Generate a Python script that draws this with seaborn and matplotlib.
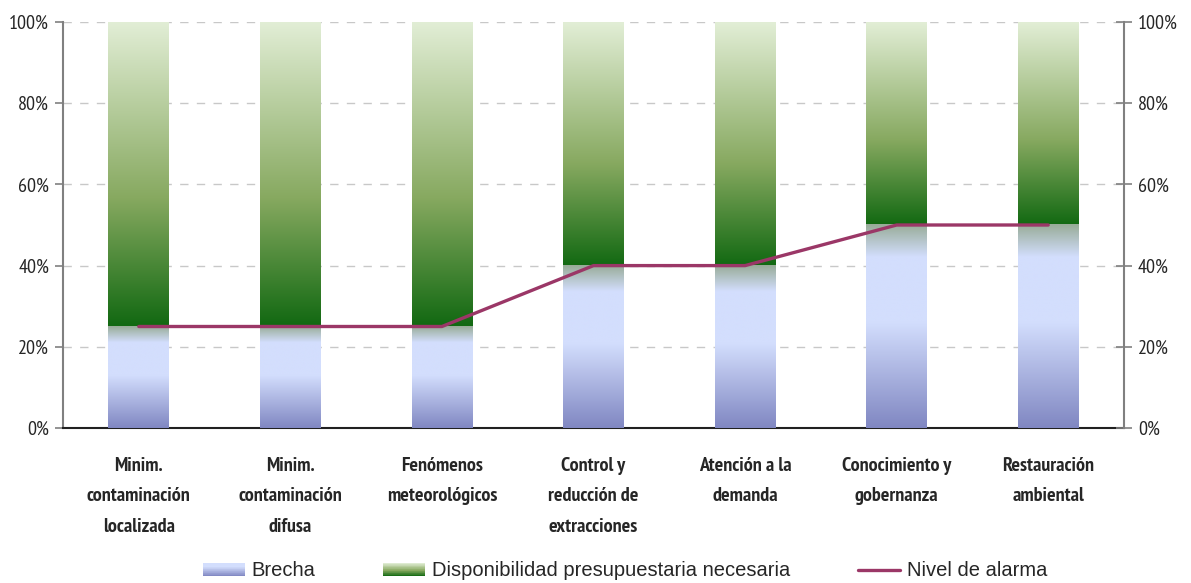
import numpy as np
import pandas as pd
import matplotlib
matplotlib.use("Agg")
import matplotlib.pyplot as plt
import seaborn as sns
from matplotlib.colors import LinearSegmentedColormap
from matplotlib.legend_handler import HandlerBase
from matplotlib.patches import Rectangle
from matplotlib.lines import Line2D
from matplotlib import font_manager

# --- data -------------------------------------------------------------
categorias = [
    "Minim.\ncontaminación\nlocalizada",
    "Minim.\ncontaminación\ndifusa",
    "Fenómenos\nmeteorológicos",
    "Control y\nreducción de\nextracciones",
    "Atención a la\ndemanda",
    "Conocimiento y\ngobernanza",
    "Restauración\nambiental",
]
brecha = [0.25, 0.25, 0.25, 0.40, 0.40, 0.50, 0.50]
disponibilidad = [0.75, 0.75, 0.75, 0.60, 0.60, 0.50, 0.50]
nivel_alarma = [0.25, 0.25, 0.25, 0.40, 0.40, 0.50, 0.50]
ticks_y = [0.0, 0.2, 0.4, 0.6, 0.8, 1.0]
etiquetas_y = ["0%", "20%", "40%", "60%", "80%", "100%"]

# --- style ------------------------------------------------------------
sns.set_theme(style="white")
installed = {f.name for f in font_manager.fontManager.ttflist}
preferred = ["PT Sans Narrow", "Liberation Sans Narrow", "Roboto Condensed",
             "Archivo Narrow", "Liberation Sans"]
narrow_font = next(f for f in preferred if f in installed)
plt.rcParams["font.family"] = [narrow_font, "DejaVu Sans"]
legend_font = ["Liberation Sans", "DejaVu Sans"]

cmap_brecha = LinearSegmentedColormap.from_list(
    "brecha", [(0.0, "#8087c2"), (0.52, "#d3defd"), (0.84, "#d3defd"), (1.0, "#98ac98")])
cmap_disp = LinearSegmentedColormap.from_list(
    "disp", [(0.0, "#126912"), (0.42, "#87a960"), (1.0, "#e2eed6")])
color_linea = "#9b3767"

df = pd.DataFrame({
    "categoria": categorias,
    "total": np.array(brecha) + np.array(disponibilidad),
    "brecha": brecha,
})

fig = plt.figure(figsize=(11.91, 5.83), dpi=100)
ax = fig.add_axes([63 / 1191, 1 - 428 / 583, (1124 - 63) / 1191, (428 - 22) / 583])

# stacked bars: total behind, gap in front
sns.barplot(data=df, x="categoria", y="total", ax=ax, width=0.40,
            color="#87a960", saturation=1, zorder=2)
n_total = len(ax.patches)
sns.barplot(data=df, x="categoria", y="brecha", ax=ax, width=0.40,
            color="#d3defd", saturation=1, zorder=3)

# vertical gradient fills for each bar segment
grad = np.linspace(0, 1, 512).reshape(-1, 1)
patches = list(ax.patches)
for i, p in enumerate(patches[:n_total]):
    x0 = p.get_x()
    x1 = x0 + p.get_width()
    ax.imshow(grad, cmap=cmap_disp, extent=[x0, x1, brecha[i], p.get_height()],
              origin="lower", aspect="auto", zorder=2.5, interpolation="bilinear")
    p.set_visible(False)
for p in patches[n_total:]:
    x0 = p.get_x()
    x1 = x0 + p.get_width()
    ax.imshow(grad, cmap=cmap_brecha, extent=[x0, x1, 0, p.get_height()],
              origin="lower", aspect="auto", zorder=3.5, interpolation="bilinear")
    p.set_visible(False)

sns.lineplot(x=np.arange(len(categorias)), y=nivel_alarma, ax=ax, color=color_linea,
             lw=2.4, zorder=5, sort=False)

ax.set_xlim(-0.5, len(categorias) - 0.5)
ax.set_ylim(0, 1)
ax.set_yticks(ticks_y)
ax.set_yticklabels(etiquetas_y, fontsize=14.5)
ax.set_xlabel("")
ax.set_ylabel("")
ax.set_xticks(np.arange(len(categorias)))
ax.set_xticklabels(categorias, fontsize=14.5, fontweight="bold", linespacing=1.88)
ax.tick_params(axis="x", length=0, pad=21)
ax.tick_params(axis="y", direction="out", length=6, width=1.2, color="#808080", pad=4)
ax.yaxis.grid(True, ls=(0, (6, 6)), color="#c8c8c8", lw=1.0)
ax.set_axisbelow(True)
ax.spines["top"].set_visible(False)
ax.spines["right"].set_visible(False)
ax.spines["left"].set_color("#808080")
ax.spines["left"].set_linewidth(1.5)
ax.spines["bottom"].set_color("#202020")
ax.spines["bottom"].set_linewidth(1.5)

ax2 = ax.twinx()
ax2.set_ylim(0, 1)
ax2.set_yticks(ticks_y)
ax2.set_yticklabels(etiquetas_y, fontsize=14.5)
ax2.tick_params(axis="y", direction="inout", length=12, width=1.2, color="#808080", pad=4)
for s in ["top", "left", "bottom"]:
    ax2.spines[s].set_visible(False)
ax2.spines["right"].set_color("#808080")
ax2.spines["right"].set_linewidth(1.5)
ax2.grid(False)


class GradientHandler(HandlerBase):
    def __init__(self, cmap, hi=1.0):
        super().__init__()
        self.cmap = cmap
        self.hi = hi

    def create_artists(self, legend, orig_handle, xdescent, ydescent, width, height,
                       fontsize, trans):
        n = 20
        arts = []
        for k in range(n):
            c = self.cmap(self.hi * (k + 0.5) / n)
            r = Rectangle((-xdescent, -ydescent + height * k / n), width, height / n + 0.3,
                          facecolor=c, edgecolor="none", transform=trans)
            arts.append(r)
        return arts


h_brecha = Rectangle((0, 0), 1, 1)
h_disp = Rectangle((0, 0), 1, 1)
h_line = Line2D([0], [0], color=color_linea, lw=2.4)
fig.legend([h_brecha, h_disp, h_line],
           ["Brecha", "Disponibilidad presupuestaria necesaria", "Nivel de alarma"],
           handler_map={h_brecha: GradientHandler(cmap_brecha, 0.75),
                        h_disp: GradientHandler(cmap_disp)},
           loc="center", bbox_to_anchor=(0.525, 0.0206), ncol=3, frameon=False,
           prop={"family": legend_font, "size": 14.5},
           handlelength=2.08, handleheight=0.6, handletextpad=0.35,
           columnspacing=3.37, borderpad=0)

fig.savefig("out.png", dpi=100)
